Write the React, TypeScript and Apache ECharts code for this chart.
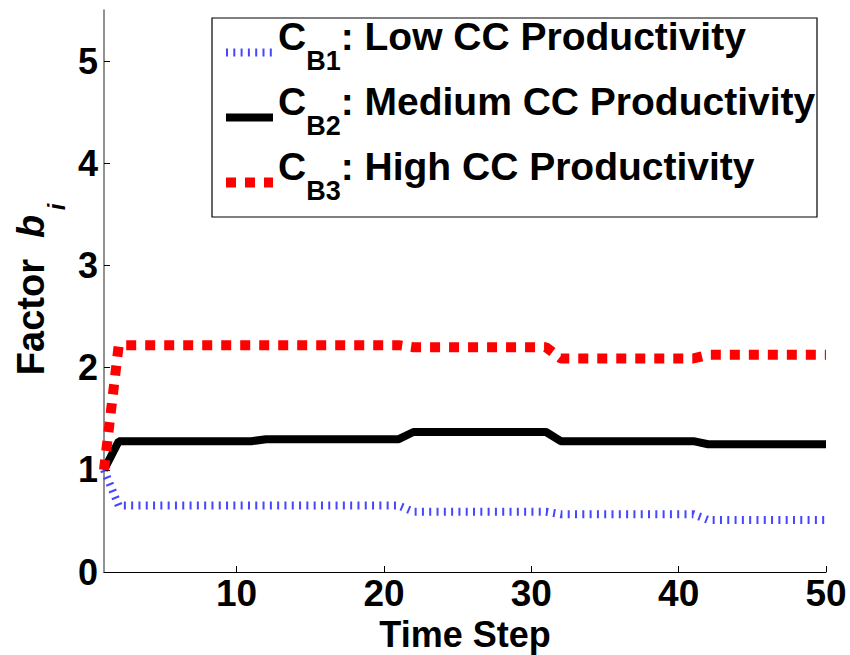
import React, { useEffect, useRef } from 'react';
import * as echarts from 'echarts';

const timeSteps = [1, 2, 3, 4, 5, 6, 7, 8, 9, 10, 11, 12, 13, 14, 15, 16, 17, 18, 19, 20, 21, 22, 23, 24, 25, 26, 27, 28, 29, 30, 31, 32, 33, 34, 35, 36, 37, 38, 39, 40, 41, 42, 43, 44, 45, 46, 47, 48, 49, 50];

const lowCC = [1.0, 0.65, 0.65, 0.65, 0.65, 0.65, 0.65, 0.65, 0.65, 0.65, 0.65, 0.65, 0.65, 0.65, 0.65, 0.65, 0.65, 0.65, 0.65, 0.65, 0.65, 0.59, 0.59, 0.59, 0.59, 0.59, 0.59, 0.59, 0.59, 0.59, 0.59, 0.565, 0.565, 0.565, 0.565, 0.565, 0.565, 0.565, 0.565, 0.565, 0.565, 0.51, 0.51, 0.51, 0.51, 0.51, 0.51, 0.51, 0.51, 0.51];

const mediumCC = [1.0, 1.28, 1.28, 1.28, 1.28, 1.28, 1.28, 1.28, 1.28, 1.28, 1.28, 1.3, 1.3, 1.3, 1.3, 1.3, 1.3, 1.3, 1.3, 1.3, 1.3, 1.37, 1.37, 1.37, 1.37, 1.37, 1.37, 1.37, 1.37, 1.37, 1.37, 1.28, 1.28, 1.28, 1.28, 1.28, 1.28, 1.28, 1.28, 1.28, 1.28, 1.25, 1.25, 1.25, 1.25, 1.25, 1.25, 1.25, 1.25, 1.25];

const highCC = [1.0, 2.22, 2.22, 2.22, 2.22, 2.22, 2.22, 2.22, 2.22, 2.22, 2.22, 2.22, 2.22, 2.22, 2.22, 2.22, 2.22, 2.22, 2.22, 2.22, 2.22, 2.2, 2.2, 2.2, 2.2, 2.2, 2.2, 2.2, 2.2, 2.2, 2.2, 2.09, 2.09, 2.09, 2.09, 2.09, 2.09, 2.09, 2.09, 2.09, 2.09, 2.125, 2.125, 2.125, 2.125, 2.125, 2.125, 2.125, 2.125, 2.125];

const xTickValues = [10, 20, 30, 40, 50];
const yTickValues = [0, 1, 2, 3, 4, 5];

const seriesSubs = ['B1', 'B2', 'B3'];
const seriesLabels = [': Low CC Productivity', ': Medium CC Productivity', ': High CC Productivity'];
const seriesNames = ['CB1: Low CC Productivity', 'CB2: Medium CC Productivity', 'CB3: High CC Productivity'];

const xAxisTitle = 'Time Step';
const yAxisTitleMain = 'Factor  ';
const yAxisTitleSymbol = 'b';
const yAxisTitleSub = 'i';

const FONT = '"Liberation Sans", Arial, Helvetica, sans-serif';

const BLUE_STYLE = { color: '#4646ff', width: 8, type: [2, 5.3], cap: 'butt' };
const BLACK_STYLE = { color: '#000', width: 8, type: 'solid' };
const RED_STYLE = { color: '#ff0000', width: 10, type: [10, 9], cap: 'butt' };

export default function App() {
  const ref = useRef<HTMLDivElement>(null);
  useEffect(() => {
    if (!ref.current) return;
    const chart = echarts.init(ref.current, null, { renderer: 'svg' });
    const pairs = (ys: number[]) => timeSteps.map((t, i) => [t, ys[i]]);
    const styles = [BLUE_STYLE, BLACK_STYLE, RED_STYLE];
    const option: any = {
      animation: false,
      backgroundColor: '#fff',
      grid: { left: 104, right: 24, top: 10, bottom: 83, containLabel: false, outerBoundsMode: 'none' },
      xAxis: {
        type: 'value',
        min: 1,
        max: 50,
        name: xAxisTitle,
        nameLocation: 'middle',
        nameGap: 32,
        nameTextStyle: { fontFamily: FONT, fontWeight: 'bold', fontSize: 36, color: '#000', lineHeight: 36 },
        axisLine: { show: true, onZero: false, lineStyle: { color: '#000', width: 1.2 } },
        axisTick: { show: true, inside: true, length: 6, customValues: xTickValues, lineStyle: { color: '#000' } },
        axisLabel: { customValues: xTickValues, fontFamily: FONT, fontWeight: 'bold', fontSize: 37, color: '#000', margin: 3 },
        splitLine: { show: false },
      },
      yAxis: {
        type: 'value',
        min: 0,
        max: 5.5,
        interval: 1,
        axisLine: { show: true, lineStyle: { color: '#6e6e6e', width: 1.5 } },
        axisTick: { show: true, inside: true, length: 6, customValues: yTickValues, lineStyle: { color: '#000' } },
        axisLabel: { customValues: yTickValues, fontFamily: FONT, fontWeight: 'bold', fontSize: 36, color: '#000', margin: 6 },
        splitLine: { show: false },
      },
      legend: {
        orient: 'vertical',
        left: 221,
        top: 17,
        padding: 0,
        itemGap: -6,
        itemWidth: 47,
        itemHeight: 14,
        selectedMode: false,
        itemStyle: { opacity: 0, borderWidth: 0 },
        data: seriesNames.map((n, i) => ({ name: n, lineStyle: { ...styles[i] }, itemStyle: { opacity: 0, borderWidth: 0 } })),
        formatter: (name: string) => {
          const i = seriesNames.indexOf(name);
          return `{c|C}{s|${seriesSubs[i]}}{c|${seriesLabels[i]}}`;
        },
        textStyle: {
          fontFamily: FONT,
          color: '#000',
          rich: {
            c: { fontFamily: FONT, fontWeight: 'bold', fontSize: 39, lineHeight: 30, padding: [0, 0, 32, 0], color: '#000' },
            s: { fontFamily: FONT, fontWeight: 'bold', fontSize: 27, lineHeight: 24, padding: [27, 0, 11, 0], color: '#000' },
          },
        },
      },
      graphic: [
        {
          type: 'rect',
          shape: { x: 212, y: 18, width: 605, height: 199 },
          style: { fill: 'none', stroke: '#000', lineWidth: 1.2 },
          z: 100,
        },
        {
          type: 'text',
          x: 31,
          y: 295,
          rotation: Math.PI / 2,
          style: {
            text: `{t|${yAxisTitleMain}}{b|${yAxisTitleSymbol}}`,
            align: 'center',
            verticalAlign: 'middle',
            fill: '#000',
            rich: {
              t: { fontFamily: FONT, fontWeight: 'bold', fontSize: 38, lineHeight: 38, fill: '#000' },
              b: { fontFamily: FONT, fontWeight: 'bold', fontStyle: 'italic', fontSize: 38, lineHeight: 38, fill: '#000' },
            },
          },
        },
        {
          type: 'text',
          x: 56,
          y: 207,
          rotation: Math.PI / 2,
          style: {
            text: yAxisTitleSub,
            align: 'center',
            verticalAlign: 'middle',
            fill: '#000',
            fontFamily: FONT,
            fontWeight: 'bold',
            fontStyle: 'italic',
            fontSize: 24,
            lineHeight: 24,
          },
        },
      ],
      series: [
        {
          name: seriesNames[0],
          type: 'line',
          data: pairs(lowCC),
          symbol: 'none',
          lineStyle: BLUE_STYLE,
          itemStyle: { color: BLUE_STYLE.color },
        },
        {
          name: seriesNames[1],
          type: 'line',
          data: pairs(mediumCC),
          symbol: 'none',
          lineStyle: BLACK_STYLE,
          itemStyle: { color: '#000' },
        },
        {
          name: seriesNames[2],
          type: 'line',
          data: pairs(highCC),
          symbol: 'none',
          lineStyle: RED_STYLE,
          itemStyle: { color: RED_STYLE.color },
        },
      ],
    };
    chart.setOption(option);
    return () => chart.dispose();
  }, []);
  return <div ref={ref} style={{ width: 850, height: 655, position: 'absolute', left: 0, top: 0 }} />;
}
